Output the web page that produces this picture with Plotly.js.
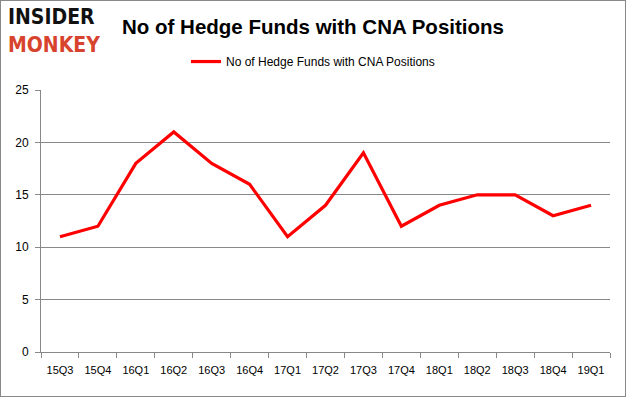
<!DOCTYPE html>
<html><head><meta charset="utf-8">
<script src="https://cdn.plot.ly/plotly-3.0.1.min.js"></script>
<style>
body{margin:0;padding:0;background:#fff;}
#wrap{position:relative;width:626px;height:397px;}
#frame{position:absolute;left:0;top:0;width:624px;height:395px;border:1px solid #888;pointer-events:none;}
</style></head>
<body>
<div id="wrap"><div id="chart" style="width:626px;height:397px;"></div><div id="frame"></div></div>
<script>
const quarters = ["15Q3","15Q4","16Q1","16Q2","16Q3","16Q4","17Q1","17Q2","17Q3","17Q4","18Q1","18Q2","18Q3","18Q4","19Q1"];
const hedgeFunds = [11,12,18,21,18,16,11,14,19,12,14,15,15,13,14];
const seriesName = "No of Hedge Funds with CNA Positions";
const yTicks = [0,5,10,15,20,25];

const trace = {
  x: quarters, y: hedgeFunds, type: "scatter", mode: "lines",
  name: seriesName, line: {color: "#ff0000", width: 3.2}
};
const layout = {
  width: 626, height: 397,
  margin: {l: 41, r: 16, t: 90, b: 45},
  paper_bgcolor: "#fff", plot_bgcolor: "#fff",
  font: {family: "Liberation Sans, Arial, sans-serif", size: 12, color: "#000"},
  title: {text: "No of Hedge Funds with CNA Positions", x: 0.5, xref: "container", xanchor: "center",
          y: 0.932, yref: "container", yanchor: "middle",
          font: {family: "Liberation Sans, Arial, sans-serif", size: 20.5, color: "#000", weight: "bold"}},
  showlegend: true,
  legend: {orientation: "h", x: 0.5, xref: "container", xanchor: "center", y: 0.845, yref: "container", yanchor: "middle",
           font: {size: 12, color: "#000"}},
  xaxis: {type: "category", range: [-0.5, 14.5], tickson: "boundaries", ticks: "outside", ticklen: 5, tickcolor: "#888",
          showline: true, linecolor: "#888", linewidth: 1, showgrid: false, zeroline: false, tickangle: 0,
          ticklabelstandoff: 8, tickfont: {size: 11, color: "#000"}, fixedrange: true},
  yaxis: {range: [0, 25], tickvals: yTicks, ticks: "outside", ticklen: 5, tickcolor: "#888",
          showline: true, linecolor: "#888", linewidth: 1, showgrid: true, gridcolor: "#888", gridwidth: 1,
          zeroline: false, ticklabelstandoff: 4, tickfont: {size: 12, color: "#000"}, fixedrange: true},
  annotations: [
    {text: "<b>INSIDER</b>", xref: "paper", yref: "paper", x: -0.062, y: 1.2252, xanchor: "left", yanchor: "bottom",
     showarrow: false, font: {family: "DejaVu Sans Condensed, DejaVu Sans, sans-serif", size: 21, color: "#111"}},
    {text: "<b>MONKEY</b>", xref: "paper", yref: "paper", x: -0.062, y: 1.2252, xanchor: "left", yanchor: "top",
     showarrow: false, font: {family: "DejaVu Sans Condensed, DejaVu Sans, sans-serif", size: 21, color: "#d8432e"}}
  ]
};
Plotly.newPlot("chart", [trace], layout, {displayModeBar: false, staticPlot: true});
</script>
</body></html>
